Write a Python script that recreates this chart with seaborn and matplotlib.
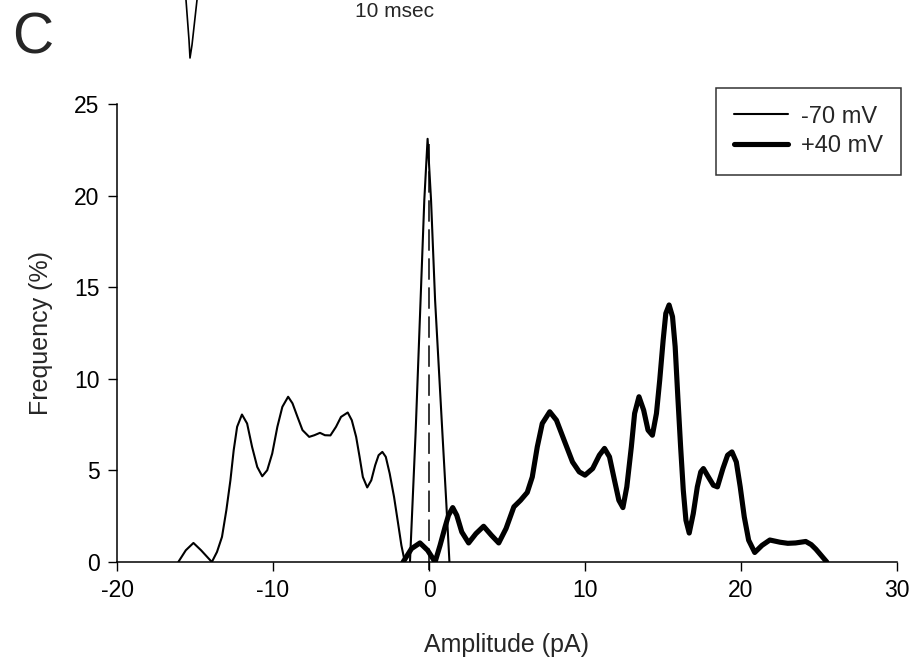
import numpy as np
import pandas as pd
import matplotlib
matplotlib.use("Agg")
import matplotlib.pyplot as plt
import seaborn as sns
from matplotlib.lines import Line2D

# amplitude histograms (smoothed curves)
neg70_x = [-16.07, -15.59, -15.10, -14.61, -13.92, -13.59, -13.27, -12.99, -12.73,
           -12.52, -12.30, -11.99, -11.66, -11.34, -11.01, -10.69, -10.37, -10.05,
           -9.72, -9.40, -9.03, -8.75, -8.43, -8.11, -7.68, -7.35, -6.99, -6.67,
           -6.32, -5.96, -5.64, -5.21, -4.95, -4.67, -4.45, -4.24, -3.96, -3.70,
           -3.45, -3.23, -2.99, -2.77, -2.52, -2.24, -1.98, -1.77, -1.55]
neg70_y = [0.0, 0.64, 1.04, 0.64, 0.0, 0.55, 1.37, 2.83, 4.46,
           6.10, 7.38, 8.05, 7.56, 6.28, 5.19, 4.68, 5.01, 5.92,
           7.38, 8.47, 9.02, 8.66, 7.92, 7.20, 6.83, 6.92, 7.05, 6.92,
           6.91, 7.38, 7.92, 8.16, 7.74, 6.83, 5.74, 4.64, 4.07, 4.46,
           5.28, 5.83, 6.01, 5.74, 4.83, 3.55, 2.10, 0.91, 0.0]

# noise peak around 0 pA
noise_x = [-1.22, -0.86, -0.54, -0.30, -0.09, 0.13, 0.39, 0.86, 1.10, 1.31]
noise_y = [0.0, 7.02, 14.3, 19.77, 23.1, 19.77, 14.3, 7.02, 3.37, 0.0]

pos40_x = [-1.66, -1.12, -0.58, -0.09, 0.39, 0.71, 1.03, 1.25, 1.52, 1.78, 2.10,
           2.54, 3.01, 3.50, 4.00, 4.47, 4.94, 5.44, 5.87, 6.30, 6.62, 6.94, 7.26,
           7.74, 8.17, 8.66, 9.20, 9.63, 10.00, 10.49, 10.92, 11.25, 11.57, 11.89,
           12.17, 12.43, 12.68, 12.97, 13.18, 13.46, 13.76, 14.04, 14.32, 14.58,
           14.79, 15.01, 15.18, 15.39, 15.61, 15.78, 15.95, 16.13, 16.30, 16.47,
           16.68, 16.94, 17.20, 17.42, 17.59, 17.91, 18.23, 18.49, 18.84, 19.14,
           19.42, 19.70, 19.95, 20.21, 20.49, 20.88, 21.35, 21.85, 22.50, 23.00,
           23.50, 24.15, 24.50, 24.80, 25.15, 25.50]
pos40_y = [0.0, 0.73, 1.04, 0.64, 0.0, 0.91, 1.91, 2.55, 2.97, 2.55, 1.64,
           1.04, 1.55, 1.95, 1.46, 1.04, 1.83, 3.01, 3.37, 3.80, 4.64, 6.28, 7.56,
           8.20, 7.74, 6.65, 5.46, 4.92, 4.74, 5.10, 5.83, 6.20, 5.74, 4.46,
           3.37, 2.97, 4.10, 6.28, 8.11, 9.02, 8.29, 7.20, 6.92, 8.11,
           9.93, 12.11, 13.57, 14.03, 13.39, 11.75, 9.02, 6.28, 3.92, 2.28,
           1.58, 2.64, 4.10, 4.92, 5.10, 4.64, 4.19, 4.10, 5.10, 5.83,
           6.01, 5.46, 4.10, 2.46, 1.19, 0.52, 0.91, 1.20, 1.08, 1.02,
           1.04, 1.12, 0.95, 0.70, 0.35, 0.0]

dash_x = 0.0
dash_span = [-0.45, 22.8]

x_ticks = [-20, -10, 0, 10, 20, 30]
y_ticks = [0, 5, 10, 15, 20, 25]

# fragment of the trace from the panel above (figure pixels)
trace_px = [(186, 0), (189, 40), (190, 58), (192, 45), (197, 0)]

sns.set_style("ticks")
plt.rcParams["font.family"] = ["Liberation Sans", "DejaVu Sans"]
plt.rcParams["axes.unicode_minus"] = False

W, H = 910, 666
fig = plt.figure(figsize=(W / 100, H / 100), dpi=100)
ax = fig.add_axes([117 / W, 1 - 562 / H, (897 - 117) / W, (562 - 104) / H])

neg = pd.DataFrame({"Amplitude": neg70_x, "Frequency": neg70_y})
pos = pd.DataFrame({"Amplitude": pos40_x, "Frequency": pos40_y})
noise = pd.DataFrame({"Amplitude": noise_x, "Frequency": noise_y})

sns.lineplot(data=neg, x="Amplitude", y="Frequency", ax=ax, color="black",
             lw=1.5, estimator=None, sort=False, label="-70 mV",
             solid_joinstyle="round")
sns.lineplot(data=pos, x="Amplitude", y="Frequency", ax=ax, color="black",
             lw=3.7, estimator=None, sort=False, label="+40 mV",
             solid_joinstyle="round", solid_capstyle="round")
sns.lineplot(data=noise, x="Amplitude", y="Frequency", ax=ax, color="black",
             lw=1.5, estimator=None, sort=False, legend=False,
             solid_joinstyle="round")
ax.plot([dash_x, dash_x], dash_span, color="black", lw=1.1,
        dashes=(14, 5), clip_on=False)

ax.set_xlim(-20, 30)
ax.set_ylim(0, 25)
ax.set_xticks(x_ticks)
ax.set_yticks(y_ticks)
ax.tick_params(direction="out", length=6.5, width=1, pad=6,
               labelsize=16.5, colors="black")
for s in ["left", "bottom"]:
    ax.spines[s].set_linewidth(1.1)
    ax.spines[s].set_color("black")
sns.despine(ax=ax)

ax.set_xlabel("Amplitude (pA)", fontsize=18, labelpad=22)
ax.set_ylabel("Frequency (%)", fontsize=18, labelpad=15)

leg = ax.legend(loc="upper right", bbox_to_anchor=(901 / W, 1 - 88 / H),
                bbox_transform=fig.transFigure, frameon=True, fancybox=False,
                fontsize=17, handlelength=2.3, handletextpad=0.55,
                borderpad=0.75, labelspacing=0.3, borderaxespad=0)
leg.get_frame().set_edgecolor("black")
leg.get_frame().set_linewidth(1.1)

fig.text(12 / W, 1 - 53 / H, "C", fontsize=41, ha="left", va="baseline")
fig.text(355 / W, 1 - 17 / H, "10 msec", fontsize=15, ha="left", va="baseline")
fig.add_artist(Line2D([p[0] / W for p in trace_px], [1 - p[1] / H for p in trace_px],
                      color="black", lw=1.2, transform=fig.transFigure))

fig.savefig("out.png", dpi=100)
